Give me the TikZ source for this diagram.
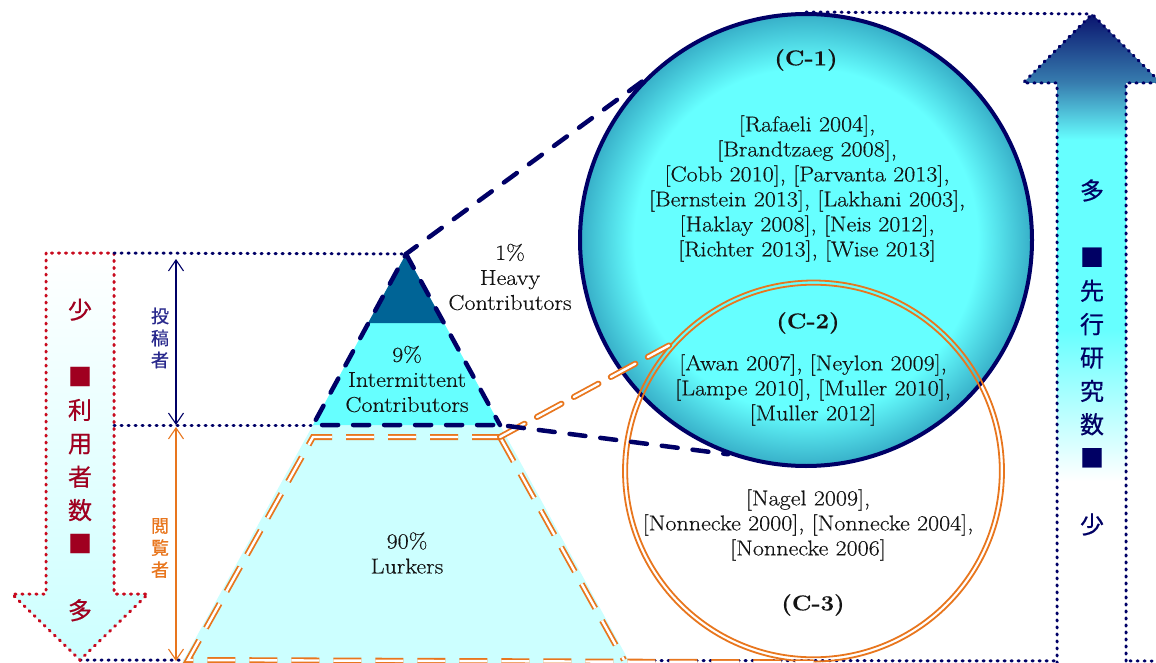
\documentclass[tikz,border=0pt]{standalone}
\usepackage{fontspec}
\setmainfont{Latin Modern Roman}[FakeStretch=1.12, FakeBold=0.4]
\newfontfamily\cjk{Noto Sans CJK JP}[FakeBold=0.6]
\usetikzlibrary{arrows.meta}

\definecolor{navyD}{RGB}{0,0,102}
\definecolor{navyT}{RGB}{0,0,100}
\definecolor{dimNavy}{RGB}{40,40,140}
\definecolor{pyrDark}{RGB}{0,100,150}
\definecolor{cyanM}{RGB}{102,255,255}
\definecolor{lurk}{RGB}{204,255,255}
\definecolor{edgeC}{RGB}{55,175,200}
\definecolor{orangeL}{RGB}{232,118,30}
\definecolor{redD}{RGB}{200,10,30}
\definecolor{redT}{RGB}{160,0,32}
\definecolor{steelB}{RGB}{55,125,175}
\definecolor{tipNavy}{RGB}{10,20,110}
\definecolor{txt}{RGB}{20,20,20}

% bright centre, darker rim for the large circle
\pgfdeclareradialshading{bubble}{\pgfpoint{0bp}{0bp}}{%
  color(0bp)=(cyanM); color(19bp)=(cyanM); color(25bp)=(edgeC); color(50bp)=(edgeC)}
% upward arrow: navy tip, cyan body, fading to white
\pgfdeclareverticalshading{upgrad}{100bp}{%
  color(0bp)=(white); color(39bp)=(white); color(50.7bp)=(cyanM);
  color(65.3bp)=(cyanM); color(69.7bp)=(steelB); color(75bp)=(tipNavy);
  color(100bp)=(tipNavy)}

\begin{document}
\begin{tikzpicture}[x=1pt,y=-1pt,
  dotline/.style={line width=3pt, line cap=round, dash pattern=on 1.2pt off 5.8pt},
  navydash/.style={draw=navyD, line width=4.5pt, line cap=round, dash pattern=on 16pt off 15pt},
  orangedash/.style={draw=orangeL, double=white, double distance=2.4pt, line width=1.8pt,
                     dash pattern=on 28pt off 14pt},
  lbl/.style={text=txt, align=center, font=\fontsize{21.5}{25}\selectfont, inner sep=0pt},
  ttl/.style={text=txt, font=\fontsize{21.5}{25}\selectfont\bfseries, inner sep=0pt},
  vtext/.style={align=center, inner sep=0pt, font=\cjk\fontsize{24}{33.4}\selectfont},
  dimtext/.style={align=center, inner sep=0pt, font=\cjk\fontsize{18}{22}\selectfont},
  dimarrow/.style={line width=1.1pt, {Straight Barb[length=11pt,width=15pt]}-{Straight Barb[length=11pt,width=15pt]}}
]
\useasboundingbox (0,0) rectangle (1156,663);

% key points of the pyramid
\coordinate (apex) at (406,254);
\coordinate (darkL) at (368,323);
\coordinate (darkR) at (444,323);
\coordinate (baseL) at (313,425);
\coordinate (baseR) at (500,425);
\coordinate (footL) at (182,663);
\coordinate (footR) at (630,663);
\coordinate (oTL) at (313,437);
\coordinate (oTR) at (500,437);
\coordinate (oBL) at (188,660);
\coordinate (oBR) at (624,660);

% arrow outlines
\coordinate (lTip) at (80,660);
\coordinate (rTip) at (1092,14);

% bottom guide line
\draw[navyD, dotline] (lTip) -- (1156,661);

% left arrow: number of users
\path[draw=redD, dotline, top color=white, bottom color=lurk]
  (46,253) -- (46,594) -- (12,594) -- (lTip) -- (148,594) -- (114,594) -- (114,253) -- cycle;
\node[vtext, text=redT] (users) at (80,460)
  {少\\\mbox{}\\■\\利\\用\\者\\数\\■\\\mbox{}\\多};

% right arrow: number of prior studies
\shade[shading=upgrad] (1057,663) -- (1057,83) -- (1023,83) -- (rTip) -- (1161,83) -- (1126,83) -- (1126,663) -- cycle;
\draw[navyD, dotline] (1057,663) -- (1057,83) -- (1023,83) -- (rTip) -- (1161,83) -- (1126,83) -- (1126,663);
\node[vtext, text=navyT] (studies) at (1092,357.5)
  {多\\\mbox{}\\■\\先\\行\\研\\究\\数\\■\\\mbox{}\\少};

% guide lines from the left arrow to the pyramid
\draw[navyD, dotline] (114,253) -- (apex);
\draw[navyD, dotline] (114,425) -- (baseL);

% dimension arrows
\draw[dimarrow, navyD] (176,425) -- (176,259);
\node[dimtext, text=dimNavy] (posters) at (160,338) {投\\稿\\者};
\draw[dimarrow, orangeL] (176,427) -- (176,661);
\node[dimtext, text=orangeL] (readers) at (160,548) {閲\\覧\\者};

% pyramid layers
\fill[lurk] (baseL) -- (baseR) -- (footR) -- (footL) -- cycle;
\fill[cyanM] (darkL) -- (darkR) -- (baseR) -- (baseL) -- cycle;
\fill[pyrDark] (apex) -- (darkR) -- (darkL) -- cycle;

% big circle C-1
\node[circle, minimum size=452pt, inner sep=0pt, draw=navyD, line width=4pt,
      shade, shading=bubble] (c1) at (806,240) {};

% circle C-3 (double ring)
\node[circle, minimum size=381pt, inner sep=0pt, draw=orangeL, line width=1.8pt] (c3) at (813.5,471) {};
\draw[orangeL, line width=1.8pt] (c3.center) circle (186.3);

% lurker outline and its link to C-3
\draw[orangedash] (oTR) -- (oTL) -- (oBL) -- (c3.south);
\draw[orangedash] (oTR) -- (oBR);
\draw[orangedash, line cap=round] (oTR) -- (c3.139);

% contributor outline and its links to C-1
\draw[navydash] (c1.136) -- (apex) -- (baseL) -- (baseR) -- (c1.250);
\draw[navydash] (apex) -- (baseR);

% top guide line
\draw[navyD, dotline] (c1.north) -- (rTip);

% pyramid labels
\node[lbl] (heavy) at (510,277) {1\%\\Heavy\\Contributors};
\node[lbl] (inter) at (407,379) {9\%\\Intermittent\\Contributors};
\node[lbl] (lurkers) at (407,553) {90\%\\Lurkers};

% circle contents
\node[ttl] (t1) at (806,60) {(C-1)};
\node[lbl] (r1) at (807,188.5) {{[}Rafaeli 2004{]},\\{[}Brandtzaeg 2008{]},\\{[}Cobb 2010{]}, {[}Parvanta 2013{]},\\{[}Bernstein 2013{]}, {[}Lakhani 2003{]},\\{[}Haklay 2008{]}, {[}Neis 2012{]},\\{[}Richter 2013{]}, {[}Wise 2013{]}};
\node[ttl] (t2) at (808,323) {(C-2)};
\node[lbl] (r2) at (813,390) {{[}Awan 2007{]}, {[}Neylon 2009{]},\\{[}Lampe 2010{]}, {[}Muller 2010{]},\\{[}Muller 2012{]}};
\node[lbl] (r3) at (808,525) {{[}Nagel 2009{]},\\{[}Nonnecke 2000{]}, {[}Nonnecke 2004{]},\\{[}Nonnecke 2006{]}};
\node[ttl] (t3) at (813,605) {(C-3)};
\end{tikzpicture}
\end{document}
